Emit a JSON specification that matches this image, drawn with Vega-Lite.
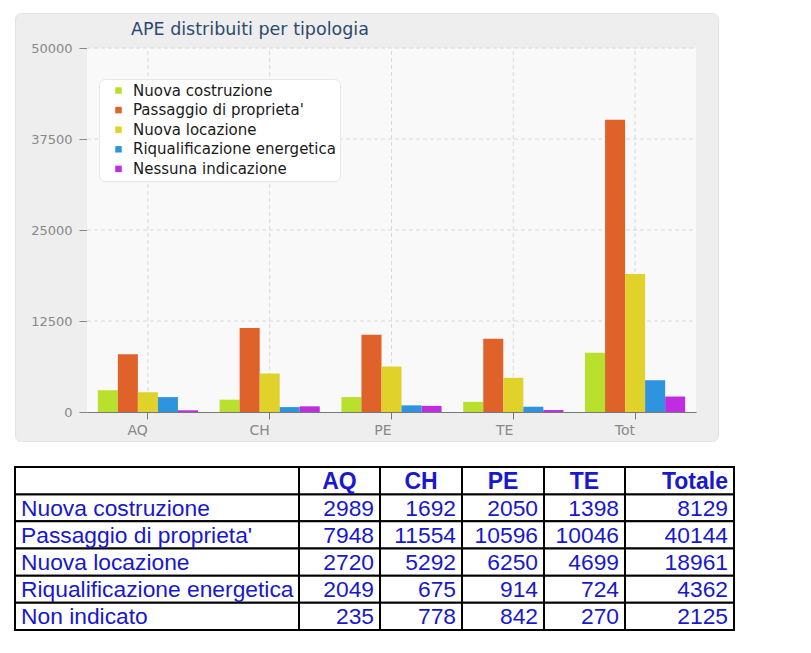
{
  "$schema": "https://vega.github.io/schema/vega-lite/v6.json",
  "background": "white",
  "padding": {"left": 14, "top": 12, "right": 0, "bottom": 0},
  "datasets": {
    "ape": [
      {"region": "AQ", "type": "Nuova costruzione", "label": "Nuova costruzione", "n": 2989},
      {"region": "AQ", "type": "Passaggio di proprieta'", "label": "Passaggio di proprieta'", "n": 7948},
      {"region": "AQ", "type": "Nuova locazione", "label": "Nuova locazione", "n": 2720},
      {"region": "AQ", "type": "Riqualificazione energetica", "label": "Riqualificazione energetica", "n": 2049},
      {"region": "AQ", "type": "Nessuna indicazione", "label": "Non indicato", "n": 235},
      {"region": "CH", "type": "Nuova costruzione", "label": "Nuova costruzione", "n": 1692},
      {"region": "CH", "type": "Passaggio di proprieta'", "label": "Passaggio di proprieta'", "n": 11554},
      {"region": "CH", "type": "Nuova locazione", "label": "Nuova locazione", "n": 5292},
      {"region": "CH", "type": "Riqualificazione energetica", "label": "Riqualificazione energetica", "n": 675},
      {"region": "CH", "type": "Nessuna indicazione", "label": "Non indicato", "n": 778},
      {"region": "PE", "type": "Nuova costruzione", "label": "Nuova costruzione", "n": 2050},
      {"region": "PE", "type": "Passaggio di proprieta'", "label": "Passaggio di proprieta'", "n": 10596},
      {"region": "PE", "type": "Nuova locazione", "label": "Nuova locazione", "n": 6250},
      {"region": "PE", "type": "Riqualificazione energetica", "label": "Riqualificazione energetica", "n": 914},
      {"region": "PE", "type": "Nessuna indicazione", "label": "Non indicato", "n": 842},
      {"region": "TE", "type": "Nuova costruzione", "label": "Nuova costruzione", "n": 1398},
      {"region": "TE", "type": "Passaggio di proprieta'", "label": "Passaggio di proprieta'", "n": 10046},
      {"region": "TE", "type": "Nuova locazione", "label": "Nuova locazione", "n": 4699},
      {"region": "TE", "type": "Riqualificazione energetica", "label": "Riqualificazione energetica", "n": 724},
      {"region": "TE", "type": "Nessuna indicazione", "label": "Non indicato", "n": 270},
      {"region": "Tot", "type": "Nuova costruzione", "label": "Nuova costruzione", "n": 8129},
      {"region": "Tot", "type": "Passaggio di proprieta'", "label": "Passaggio di proprieta'", "n": 40144},
      {"region": "Tot", "type": "Nuova locazione", "label": "Nuova locazione", "n": 18961},
      {"region": "Tot", "type": "Riqualificazione energetica", "label": "Riqualificazione energetica", "n": 4362},
      {"region": "Tot", "type": "Nessuna indicazione", "label": "Non indicato", "n": 2125}
    ],
    "heads": [
      {"region": "lab", "title": "", "type": "hdr"},
      {"region": "AQ", "title": "AQ", "type": "hdr"},
      {"region": "CH", "title": "CH", "type": "hdr"},
      {"region": "PE", "title": "PE", "type": "hdr"},
      {"region": "TE", "title": "TE", "type": "hdr"},
      {"region": "Tot", "title": "Totale", "type": "hdr"}
    ],
    "gridy": [{"v": 12500}, {"v": 25000}, {"v": 37500}, {"v": 50000}]
  },
  "vconcat": [
    {
      "width": 703,
      "height": 428,
      "view": {"fill": "#eeeeee", "stroke": "#e2e2e2", "cornerRadius": 6},
      "title": {
        "text": "APE distribuiti per tipologia",
        "anchor": "start",
        "frame": "group",
        "dx": 116,
        "dy": 18,
        "offset": -21,
        "baseline": "alphabetic",
        "font": "DejaVu Sans",
        "fontSize": 17.5,
        "fontWeight": "normal",
        "color": "#2c4a6e"
      },
      "data": {"name": "ape"},
      "layer": [
        {
          "transform": [{"filter": "datum.region === 'AQ' && datum.type === 'Nuova costruzione'"}],
          "mark": {"type": "rect", "fill": "#f9f9f9"},
          "encoding": {
            "x": {"datum": "AQ", "type": "nominal", "bandPosition": 0, "title": null},
            "x2": {"datum": "Tot", "bandPosition": 1},
            "y": {"datum": 0, "type": "quantitative", "title": null},
            "y2": {"datum": 50000}
          }
        },
        {
          "transform": [{"filter": "datum.type === 'Nuova costruzione'"}],
          "mark": {"type": "rule", "color": "#dadada", "strokeDash": [4, 3], "strokeWidth": 1},
          "encoding": {
            "x": {"field": "region", "type": "nominal", "title": null},
            "y": {"datum": 0, "type": "quantitative", "title": null},
            "y2": {"datum": 50000}
          }
        },
        {
          "data": {"name": "gridy"},
          "mark": {"type": "rule", "color": "#dadada", "strokeDash": [4, 3], "strokeWidth": 1},
          "encoding": {
            "y": {"field": "v", "type": "quantitative", "title": null},
            "x": {"datum": "AQ", "type": "nominal", "bandPosition": 0, "title": null},
            "x2": {"datum": "Tot", "bandPosition": 1}
          }
        },
        {
          "mark": {"type": "bar"},
          "encoding": {
            "x": {
              "field": "region",
              "type": "nominal",
              "sort": null,
              "scale": {"domain": ["AQ", "CH", "PE", "TE", "Tot"], "range": [72, 681], "paddingInner": 0, "paddingOuter": 0},
              "axis": {
                "title": null,
                "offset": -29,
                "labelAngle": 0,
                "grid": false,
                "domainColor": "#777777",
                "tickColor": "#777777",
                "tickSize": 7,
                "labelColor": "#888888",
                "labelFont": "DejaVu Sans",
                "labelFontSize": 14,
                "labelPadding": 11
              }
            },
            "xOffset": {
              "field": "type",
              "type": "nominal",
              "sort": null,
              "scale": {
                "domain": ["Nuova costruzione", "Passaggio di proprieta'", "Nuova locazione", "Riqualificazione energetica", "Nessuna indicazione"],
                "paddingInner": 0,
                "paddingOuter": 0.54
              }
            },
            "y": {
              "field": "n",
              "type": "quantitative",
              "scale": {"domain": [0, 50000], "range": [399, 35], "nice": false, "zero": true},
              "axis": {
                "title": null,
                "offset": -72,
                "values": [0, 12500, 25000, 37500, 50000],
                "format": "d",
                "grid": false,
                "domainColor": "#888888",
                "tickColor": "#888888",
                "tickSize": 8,
                "labelColor": "#888888",
                "labelFont": "DejaVu Sans",
                "labelFontSize": 13,
                "labelPadding": 7
              }
            },
            "color": {
              "field": "type",
              "type": "nominal",
              "scale": {
                "domain": ["Nuova costruzione", "Passaggio di proprieta'", "Nuova locazione", "Riqualificazione energetica", "Nessuna indicazione"],
                "range": ["#b8e02d", "#e0622b", "#e0d22b", "#2f94e0", "#bf2de0"]
              },
              "legend": {
                "title": null,
                "orient": "none",
                "legendX": 84,
                "legendY": 66,
                "fillColor": "white",
                "strokeColor": "#e6e6e6",
                "cornerRadius": 6,
                "padding": 4,
                "symbolType": "square",
                "symbolSize": 42,
                "symbolOffset": 8,
                "symbolStrokeWidth": 0,
                "labelFont": "DejaVu Sans",
                "labelFontSize": 15,
                "labelColor": "#1a1a1a",
                "labelOffset": 7,
                "labelLimit": 400,
                "rowPadding": 3.6
              }
            }
          }
        }
      ]
    },
    {
      "hconcat": [
        {
          "width": 284,
          "height": 163,
          "encoding": {
            "y": {"field": "type", "type": "nominal", "sort": null, "scale": {"domain": ["hdr", "Nuova costruzione", "Passaggio di proprieta'", "Nuova locazione", "Riqualificazione energetica", "Nessuna indicazione"], "paddingInner": 0, "paddingOuter": 0}, "axis": null},
            "x": {"datum": "c", "type": "nominal", "scale": {"paddingInner": 0, "paddingOuter": 0}, "axis": null}
          },
          "layer": [
            {"data": {"name": "ape"}, "transform": [{"filter": "datum.region === 'AQ'"}], "mark": {"type": "rect", "fill": "white", "stroke": "black", "strokeWidth": 2}},
            {"data": {"name": "ape"}, "transform": [{"filter": "datum.region === 'AQ'"}], "mark": {"type": "text", "align": "left", "baseline": "middle", "dx": 6, "dy": 1, "font": "Liberation Sans", "fontSize": 22.8, "fill": "#1818cc"}, "encoding": {"x": {"datum": "c", "type": "nominal", "bandPosition": 0}, "text": {"field": "label", "type": "nominal"}}},
            {"data": {"name": "heads"}, "transform": [{"filter": "datum.region === 'lab'"}], "mark": {"type": "rect", "fill": "white", "stroke": "black", "strokeWidth": 2}}
          ]
        },
        {
          "width": 81,
          "height": 163,
          "encoding": {
            "y": {"field": "type", "type": "nominal", "sort": null, "scale": {"domain": ["hdr", "Nuova costruzione", "Passaggio di proprieta'", "Nuova locazione", "Riqualificazione energetica", "Nessuna indicazione"], "paddingInner": 0, "paddingOuter": 0}, "axis": null},
            "x": {"datum": "c", "type": "nominal", "scale": {"paddingInner": 0, "paddingOuter": 0}, "axis": null}
          },
          "layer": [
            {"data": {"name": "ape"}, "transform": [{"filter": "datum.region === 'AQ'"}], "mark": {"type": "rect", "fill": "white", "stroke": "black", "strokeWidth": 2}},
            {"data": {"name": "ape"}, "transform": [{"filter": "datum.region === 'AQ'"}], "mark": {"type": "text", "align": "right", "baseline": "middle", "dx": -6, "dy": 1, "font": "Liberation Sans", "fontSize": 22.8, "fill": "#1818cc"}, "encoding": {"x": {"datum": "c", "type": "nominal", "bandPosition": 1}, "text": {"field": "n", "type": "nominal"}}},
            {"data": {"name": "heads"}, "transform": [{"filter": "datum.region === 'AQ'"}], "mark": {"type": "rect", "fill": "white", "stroke": "black", "strokeWidth": 2}},
            {"data": {"name": "heads"}, "transform": [{"filter": "datum.region === 'AQ'"}], "mark": {"type": "text", "align": "center", "baseline": "middle", "dy": 1, "font": "Liberation Sans", "fontSize": 23, "fontWeight": "bold", "fill": "#1818cc"}, "encoding": {"text": {"field": "title", "type": "nominal"}}}
          ]
        },
        {
          "width": 82,
          "height": 163,
          "encoding": {
            "y": {"field": "type", "type": "nominal", "sort": null, "scale": {"domain": ["hdr", "Nuova costruzione", "Passaggio di proprieta'", "Nuova locazione", "Riqualificazione energetica", "Nessuna indicazione"], "paddingInner": 0, "paddingOuter": 0}, "axis": null},
            "x": {"datum": "c", "type": "nominal", "scale": {"paddingInner": 0, "paddingOuter": 0}, "axis": null}
          },
          "layer": [
            {"data": {"name": "ape"}, "transform": [{"filter": "datum.region === 'CH'"}], "mark": {"type": "rect", "fill": "white", "stroke": "black", "strokeWidth": 2}},
            {"data": {"name": "ape"}, "transform": [{"filter": "datum.region === 'CH'"}], "mark": {"type": "text", "align": "right", "baseline": "middle", "dx": -6, "dy": 1, "font": "Liberation Sans", "fontSize": 22.8, "fill": "#1818cc"}, "encoding": {"x": {"datum": "c", "type": "nominal", "bandPosition": 1}, "text": {"field": "n", "type": "nominal"}}},
            {"data": {"name": "heads"}, "transform": [{"filter": "datum.region === 'CH'"}], "mark": {"type": "rect", "fill": "white", "stroke": "black", "strokeWidth": 2}},
            {"data": {"name": "heads"}, "transform": [{"filter": "datum.region === 'CH'"}], "mark": {"type": "text", "align": "center", "baseline": "middle", "dy": 1, "font": "Liberation Sans", "fontSize": 23, "fontWeight": "bold", "fill": "#1818cc"}, "encoding": {"text": {"field": "title", "type": "nominal"}}}
          ]
        },
        {
          "width": 82,
          "height": 163,
          "encoding": {
            "y": {"field": "type", "type": "nominal", "sort": null, "scale": {"domain": ["hdr", "Nuova costruzione", "Passaggio di proprieta'", "Nuova locazione", "Riqualificazione energetica", "Nessuna indicazione"], "paddingInner": 0, "paddingOuter": 0}, "axis": null},
            "x": {"datum": "c", "type": "nominal", "scale": {"paddingInner": 0, "paddingOuter": 0}, "axis": null}
          },
          "layer": [
            {"data": {"name": "ape"}, "transform": [{"filter": "datum.region === 'PE'"}], "mark": {"type": "rect", "fill": "white", "stroke": "black", "strokeWidth": 2}},
            {"data": {"name": "ape"}, "transform": [{"filter": "datum.region === 'PE'"}], "mark": {"type": "text", "align": "right", "baseline": "middle", "dx": -6, "dy": 1, "font": "Liberation Sans", "fontSize": 22.8, "fill": "#1818cc"}, "encoding": {"x": {"datum": "c", "type": "nominal", "bandPosition": 1}, "text": {"field": "n", "type": "nominal"}}},
            {"data": {"name": "heads"}, "transform": [{"filter": "datum.region === 'PE'"}], "mark": {"type": "rect", "fill": "white", "stroke": "black", "strokeWidth": 2}},
            {"data": {"name": "heads"}, "transform": [{"filter": "datum.region === 'PE'"}], "mark": {"type": "text", "align": "center", "baseline": "middle", "dy": 1, "font": "Liberation Sans", "fontSize": 23, "fontWeight": "bold", "fill": "#1818cc"}, "encoding": {"text": {"field": "title", "type": "nominal"}}}
          ]
        },
        {
          "width": 81,
          "height": 163,
          "encoding": {
            "y": {"field": "type", "type": "nominal", "sort": null, "scale": {"domain": ["hdr", "Nuova costruzione", "Passaggio di proprieta'", "Nuova locazione", "Riqualificazione energetica", "Nessuna indicazione"], "paddingInner": 0, "paddingOuter": 0}, "axis": null},
            "x": {"datum": "c", "type": "nominal", "scale": {"paddingInner": 0, "paddingOuter": 0}, "axis": null}
          },
          "layer": [
            {"data": {"name": "ape"}, "transform": [{"filter": "datum.region === 'TE'"}], "mark": {"type": "rect", "fill": "white", "stroke": "black", "strokeWidth": 2}},
            {"data": {"name": "ape"}, "transform": [{"filter": "datum.region === 'TE'"}], "mark": {"type": "text", "align": "right", "baseline": "middle", "dx": -6, "dy": 1, "font": "Liberation Sans", "fontSize": 22.8, "fill": "#1818cc"}, "encoding": {"x": {"datum": "c", "type": "nominal", "bandPosition": 1}, "text": {"field": "n", "type": "nominal"}}},
            {"data": {"name": "heads"}, "transform": [{"filter": "datum.region === 'TE'"}], "mark": {"type": "rect", "fill": "white", "stroke": "black", "strokeWidth": 2}},
            {"data": {"name": "heads"}, "transform": [{"filter": "datum.region === 'TE'"}], "mark": {"type": "text", "align": "center", "baseline": "middle", "dy": 1, "font": "Liberation Sans", "fontSize": 23, "fontWeight": "bold", "fill": "#1818cc"}, "encoding": {"text": {"field": "title", "type": "nominal"}}}
          ]
        },
        {
          "width": 109,
          "height": 163,
          "encoding": {
            "y": {"field": "type", "type": "nominal", "sort": null, "scale": {"domain": ["hdr", "Nuova costruzione", "Passaggio di proprieta'", "Nuova locazione", "Riqualificazione energetica", "Nessuna indicazione"], "paddingInner": 0, "paddingOuter": 0}, "axis": null},
            "x": {"datum": "c", "type": "nominal", "scale": {"paddingInner": 0, "paddingOuter": 0}, "axis": null}
          },
          "layer": [
            {"data": {"name": "ape"}, "transform": [{"filter": "datum.region === 'Tot'"}], "mark": {"type": "rect", "fill": "white", "stroke": "black", "strokeWidth": 2}},
            {"data": {"name": "ape"}, "transform": [{"filter": "datum.region === 'Tot'"}], "mark": {"type": "text", "align": "right", "baseline": "middle", "dx": -6, "dy": 1, "font": "Liberation Sans", "fontSize": 22.8, "fill": "#1818cc"}, "encoding": {"x": {"datum": "c", "type": "nominal", "bandPosition": 1}, "text": {"field": "n", "type": "nominal"}}},
            {"data": {"name": "heads"}, "transform": [{"filter": "datum.region === 'Tot'"}], "mark": {"type": "rect", "fill": "white", "stroke": "black", "strokeWidth": 2}},
            {"data": {"name": "heads"}, "transform": [{"filter": "datum.region === 'Tot'"}], "mark": {"type": "text", "align": "right", "baseline": "middle", "dx": -6, "dy": 1, "font": "Liberation Sans", "fontSize": 23, "fontWeight": "bold", "fill": "#1818cc"}, "encoding": {"x": {"datum": "c", "type": "nominal", "bandPosition": 1}, "text": {"field": "title", "type": "nominal"}}}
          ]
        }
      ],
      "spacing": 0,
      "bounds": "flush"
    }
  ],
  "spacing": 26,
  "bounds": "flush",
  "config": {
    "view": {"stroke": null},
    "font": "DejaVu Sans"
  }
}
